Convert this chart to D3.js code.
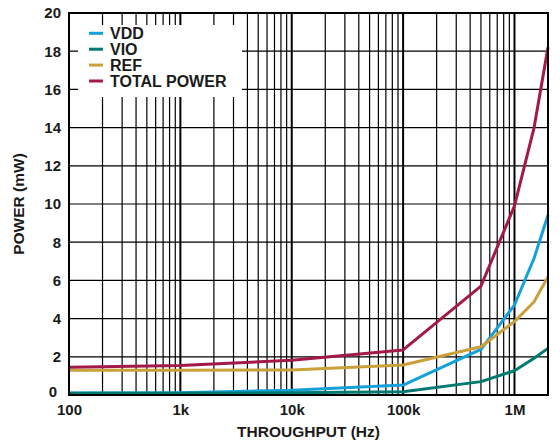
<!DOCTYPE html>
<html>
<head>
<meta charset="utf-8">
<script src="https://cdn.jsdelivr.net/npm/d3@7"></script>
<style>
  html, body { margin: 0; padding: 0; background: #fff; }
  svg text { font-family: "Liberation Sans", Arial, sans-serif; font-weight: bold; fill: #1a1a1a; }
</style>
</head>
<body>
<svg id="chart" width="560" height="446"></svg>
<script>
// Throughput (Hz) sample points
const throughput = [100, 1000, 10000, 100000, 500000, 1000000, 1500000, 2000000];
// Power per supply rail (mW)
const vdd   = [0.10, 0.12, 0.25, 0.52, 2.39, 4.71, 7.16, 9.42];
const vio   = [0.09, 0.09, 0.12, 0.17, 0.70, 1.27, 1.92, 2.44];
const ref   = [1.29, 1.30, 1.31, 1.57, 2.53, 3.84, 4.88, 6.19];
const total = [1.45, 1.55, 1.82, 2.36, 5.70, 9.90, 14.0, 18.2];

const seriesNames  = ["VDD", "VIO", "REF", "TOTAL POWER"];
const seriesColors = ["#14a0d8", "#007a70", "#c9a03a", "#a3194b"];
const seriesValues = [vdd, vio, ref, total];

const xTickValues = [100, 1000, 10000, 100000, 1000000];
const xTickLabels = ["100", "1k", "10k", "100k", "1M"];
const yTickValues = [0, 2, 4, 6, 8, 10, 12, 14, 16, 18, 20];

const svg = d3.select("#chart");
const plot = { left: 69, right: 548, top: 13, bottom: 395 };

const x = d3.scaleLog().domain([100, 2000000]).range([plot.left, plot.right]);
const y = d3.scaleLinear().domain([0, 20]).range([plot.bottom, plot.top]);

// Vertical grid: every 1..9 multiple inside each decade
const gridX = [];
for (let d = 100; d <= 1000000; d *= 10) {
  for (let m = 1; m <= 9; m++) {
    const v = d * m;
    if (v > 100 && v < 2000000) gridX.push({ v, major: m === 1 });
  }
}
const grid = svg.append("g");
grid.selectAll("line.vx").data(gridX).join("line")
  .attr("x1", d => x(d.v)).attr("x2", d => x(d.v))
  .attr("y1", plot.top).attr("y2", plot.bottom)
  .attr("stroke", "#000")
  .attr("stroke-width", d => d.major ? 2 : 1.2);
grid.selectAll("line.hy").data(yTickValues.filter(v => v > 0 && v < 20)).join("line")
  .attr("x1", plot.left).attr("x2", plot.right)
  .attr("y1", d => y(d)).attr("y2", d => y(d))
  .attr("stroke", "#000").attr("stroke-width", 1.2);

// Legend backdrop masks the grid behind it
svg.append("rect")
  .attr("x", 78).attr("y", 25).attr("width", 164).attr("height", 72)
  .attr("fill", "#fff");

// Series lines
const line = d3.line()
  .x((d, i) => x(throughput[i]))
  .y(d => y(d));
svg.append("g").selectAll("path").data(seriesValues).join("path")
  .attr("d", d => line(d))
  .attr("fill", "none")
  .attr("stroke", (d, i) => seriesColors[i])
  .attr("stroke-width", 3)
  .attr("stroke-linejoin", "round");

// Frame
svg.append("rect")
  .attr("x", plot.left).attr("y", plot.top)
  .attr("width", plot.right - plot.left).attr("height", plot.bottom - plot.top)
  .attr("fill", "none").attr("stroke", "#000").attr("stroke-width", 2);

// Axes (labels only; the frame and grid carry the lines)
const xAxis = d3.axisBottom(x)
  .tickValues(xTickValues)
  .tickFormat((d, i) => xTickLabels[i])
  .tickSize(0).tickPadding(9);
const gx = svg.append("g").attr("transform", `translate(0,${plot.bottom})`).call(xAxis);
gx.select(".domain").remove();
gx.selectAll("text").style("font-size", "15px").attr("fill", "#1a1a1a");

const yAxis = d3.axisLeft(y)
  .tickValues(yTickValues)
  .tickFormat(d3.format("d"))
  .tickSize(0).tickPadding(8);
const gy = svg.append("g").attr("transform", `translate(${plot.left},0)`).call(yAxis);
gy.select(".domain").remove();
gy.selectAll("text").style("font-size", "15px").attr("fill", "#1a1a1a");
// the zero label sits up and left of the "100" label at the corner
gy.selectAll(".tick").filter(d => d === 0).select("text")
  .attr("dy", "0.1em").attr("x", -12);

// Axis titles
svg.append("text")
  .attr("x", (plot.left + plot.right) / 2).attr("y", 437)
  .attr("text-anchor", "middle").style("font-size", "15.5px")
  .text("THROUGHPUT (Hz)");
svg.append("text")
  .attr("transform", `translate(24,${(plot.top + plot.bottom) / 2}) rotate(-90)`)
  .attr("text-anchor", "middle").style("font-size", "15.5px")
  .text("POWER (mW)");

// Legend
const legend = svg.append("g");
const items = legend.selectAll("g").data(seriesNames).join("g")
  .attr("transform", (d, i) => `translate(89,${33.3 + i * 15.9})`);
items.append("line")
  .attr("x1", 0).attr("x2", 14).attr("y1", 0).attr("y2", 0)
  .attr("stroke", (d, i) => seriesColors[i]).attr("stroke-width", 3);
items.append("text")
  .attr("x", 21).attr("y", 0).attr("dy", "0.36em")
  .style("font-size", "16px")
  .text(d => d);
</script>
</body>
</html>
